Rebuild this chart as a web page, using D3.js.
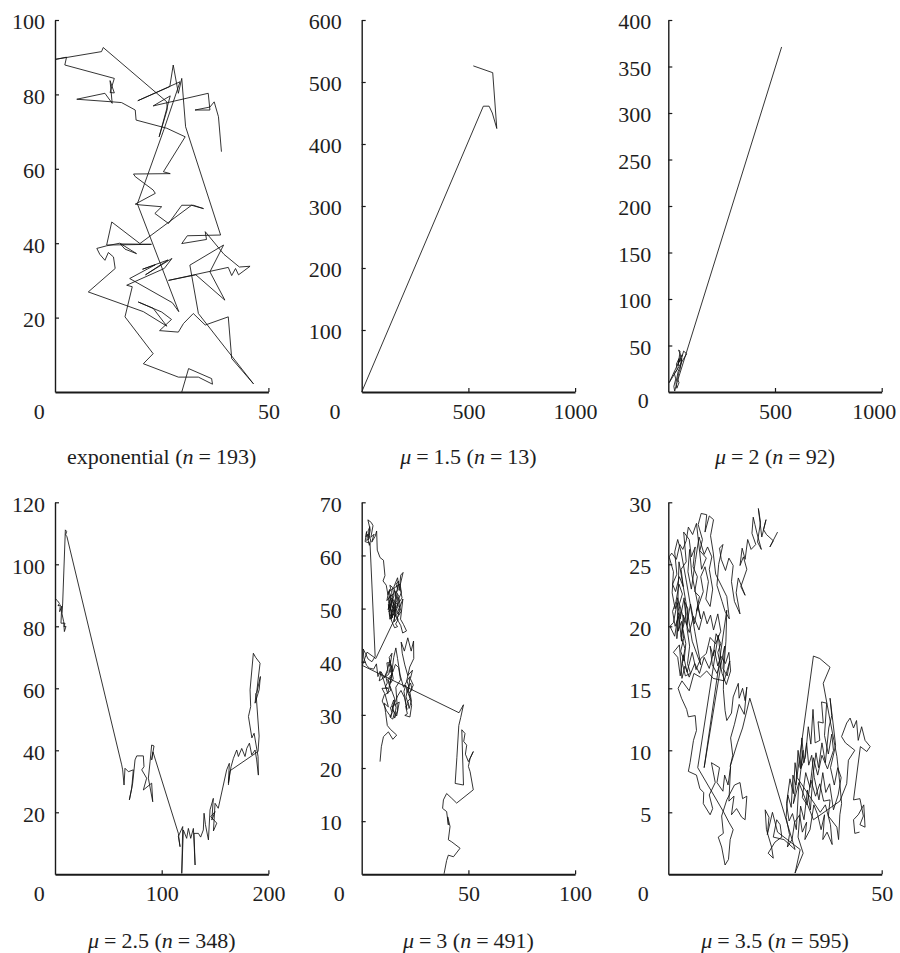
<!DOCTYPE html>
<html><head><meta charset="utf-8">
<script src="https://cdn.jsdelivr.net/npm/d3@7"></script>
<style>
body{margin:0;background:#fff}
svg{display:block}
text{font-family:"Liberation Serif","Times New Roman",serif;fill:#1e1e1e}
</style>
</head><body><svg id="c" width="900" height="953"></svg>
<script>
// ---------------- data ----------------
const titleLabels = ["exponential","1.5","2","2.5","3","3.5"];
const sampleSizes = [193,13,92,348,491,595];
const xDomains = [[0,50],[0,1000],[0,1000],[0,200],[0,100],[0,50]];
const yDomains = [[0,100],[0,600],[0,400],[0,120],[0,70],[0,30]];
const xTicks = [[50],[500,1000],[500,1000],[100,200],[50,100],[50]];
const yTicks = [[20,40,60,80,100],[100,200,300,400,500,600],[50,100,150,200,250,300,350,400],
                [20,40,60,80,100,120],[10,20,30,40,50,60,70],[5,10,15,20,25,30]];
const originLabel = "0";

const walkExp = [
[39.0,64.6],[38.3,74.0],[37.3,78.0],[36.3,76.6],[32.8,75.8],[36.3,75.8],[35.9,80.3],[23.0,76.9],[27.0,79.6],[24.4,68.6],
[26.3,76.0],[26.2,78.0],[11.3,92.6],[10.9,91.5],[0,89.4],[2.7,90.0],[2.3,87.9],[13.9,84.3],[12.9,80.5],[13.9,80.4],
[12.9,83.7],[13.4,77.6],[11.7,80.3],[5.1,78.7],[13.4,78.0],[15.6,77.8],[18.8,75.8],[19.0,73.1],[26.2,70.9],[30.5,68.6],
[25.4,59.2],[27.0,58.7],[18.4,58.6],[18.8,57.9],[23.0,54.3],[23.5,53.4],[18.8,50.5],[19.9,50.3],[25.0,49.8],[23.4,48.0],
[26.6,45.3],[29.7,50.2],[32.4,50.2],[34.8,49.3],[32.0,50.2],[19.9,39.9],[13.3,45.7],[12.1,39.5],[22.6,39.7],[15.3,39.8],
[16.4,38.4],[19.1,37.2],[15.2,40.0],[12.1,39.3],[9.8,38.6],[10.5,37.0],[11.7,35.4],[12.5,37.5],[13.7,36.3],[14.1,33.2],
[7.8,26.9],[20.7,21.6],[26.2,17.7],[23.0,22.5],[19.5,24.2],[25.0,21.5],[27.3,19.5],[24.5,16.5],[28.9,16.1],[30.1,18.4],
[32.4,21.1],[35.2,18.0],[40.6,20.2],[41.4,9.0],[46.5,2.2],[33.6,21.1],[31.6,34.1],[39.5,39.5],[36.3,32.3],[39.8,24.7],
[33.0,31.5],[26.6,30.0],[40.6,33.5],[41.4,31.3],[42.3,33.2],[43.0,31.5],[45.7,33.8],[43.2,33.6],[39.6,37.0],[35.2,43.1],
[35.5,41.0],[29.7,39.9],[31.0,42.0],[38.8,42.2],[30.6,71.3],[29.7,84.3],[28.9,80.3],[27.7,87.9],[26.9,82.1],[19.4,78.3],
[29.3,83.4],[25.5,70.5],[19.3,50.6],[29.0,21.6],[27.5,24.0],[17.5,30.5],[23.5,34.2],[20.5,33.0],[26.5,35.5],[21.2,31.5],
[27.4,35.9],[25.6,33.2],[16.8,28.7],[18.1,28.3],[16.4,20.2],[23.0,10.3],[20.7,7.6],[28.9,4.0],[33.6,4.0],[36.9,2.1],
[36.7,3.6],[31.3,6.3],[29.7,0.0]
];

const walkMu15 = [
[0,0],[570,461],[597,461],[612,450],[633,425],[614,515],[523,526]
];

const walkMu2 = [
[531,371],[38,8],[30,1],[26,6],[35,14],[28,20],[42,24],[38,30],[50,36],[46,28],[55,44],[48,45],[58,40],[52,32],
[62,36],[56,25],[48,20],[44,14],[50,10],[40,4],[36,10],[46,22],[60,30],[65,40],[4,10],[86,41],[72,44],[64,38]
];

const walkMu25 = [
[0,89.0],[2.2,88.3],[4.1,87.4],[2.8,86.6],[5.0,86.9],[4.4,84.7],[6.3,86.5],[5.6,81.0],[9.4,81.0],[8.4,79.9],
[10.3,80.0],[8.8,78.3],[8.1,81.5],[6.6,84.0],[7.2,87.5],[9.7,111.1],[10.9,110.6],[10.0,109.5],[11.2,108.9],
[62.5,35.3],[63.4,33.7],[64.7,28.8],[65.6,34.2],[68.8,33.1],[73.4,33.7],[71.9,27.7],[69.7,24.0],[72.8,29.4],[75.0,36.9],
[76.6,38.2],[82.8,38.2],[83.4,34.7],[81.3,33.7],[85.9,31.0],[82.8,27.2],[90.6,29.4],[91.6,23.4],[87.5,31.0],[89.1,36.3],
[90.6,41.7],[92.8,41.4],[90.6,36.9],[91.8,39.5],
[115.6,13.2],[117.2,8.9],[115.6,12.2],[119.7,15.4],[118.8,0.3],[120.3,14.3],[123.4,11.6],[125.0,14.8],[127.2,11.6],
[129.7,14.8],[131.3,3.0],[130.3,13.2],[134.4,13.2],[136.5,12.0],[139.0,14.3],[139.7,19.7],[141.0,16.0],[143.8,11.1],
[145.3,20.8],[148.4,24.5],[147.0,17.5],[150.0,20.2],[146.0,18.6],[151.6,16.5],[148.5,14.0],[150.0,22.9],[153.0,21.3],
[160.9,33.7],[163.4,35.8],[162.5,29.4],[165.0,34.7],[167.2,37.4],[170.3,40.1],[171.9,38.0],[175.0,40.6],[178.1,38.0],
[179.7,40.6],[182.2,42.3],[184.4,38.5],[187.5,40.1],[189.0,36.9],[190.6,32.0],[190.3,38.0],[186.6,45.5],[184.5,44.0],
[181.3,50.9],[183.4,54.1],[182.8,59.5],[185.9,71.3],[188.0,70.0],[192.2,68.1],[190.3,62.7],[189.0,58.4],[192.5,63.8],
[191.3,59.5],[187.5,55.2],[188.4,58.4],[191.3,44.6],[190.3,39.6],[164.0,33.4],[162.5,28.8]
];

const walkMu3 = [
[8.6,21.2],[9.2,24.0],[10.2,25.9],[12.5,26.8],[14.6,25.4],[16.4,26.2],[13.4,27.3],[12.0,28.0],[11.2,30.4],[10.6,32.2],
[12.5,31.5],[11.0,33.8],[13.6,34.6],[12.2,36.7],[14.4,37.8],[13.1,35.6],[15.5,33.0],[14.3,31.0],[16.4,29.8],[17.6,32.4],
[13.4,31.4],[14.2,30.4],[13.2,29.6],[14.6,29.2],[15.3,30.4],[14.1,31.8],[15.0,32.8],[16.1,31.4],[15.4,29.4],[16.8,30.8],
[16.0,35.2],[18.2,36.6],[17.3,38.9],[15.8,39.5],[14.6,38.1],[13.2,40.3],[12.1,38.5],[10.6,37.0],[9.1,38.1],[8.2,36.4],
[12.6,37.6],[13.4,38.9],[12.8,39.6],[14.0,39.2],[13.2,38.0],[14.5,38.4],[13.8,37.2],[12.4,36.4],[13.6,36.0],[14.8,36.8],
[13.9,38.6],[12.9,40.8],[14.2,41.6],[13.5,39.8],[11.8,39.8],[12.3,38.2],[11.2,37.4],[12.0,36.0],[11.0,35.2],[12.4,35.0],
[9.5,35.0],[10.8,34.0],[9.6,32.6],[11.6,30.8],[13.7,29.6],[15.0,31.8],[16.9,33.6],[18.4,34.6],[20.1,33.2],[21.2,31.0],
[19.8,34.4],[20.6,35.6],[21.4,34.2],[22.2,35.2],[21.2,36.4],[22.6,37.2],[21.8,34.0],[22.8,33.0],[21.6,32.6],[22.2,31.2],
[23.3,32.6],[22.6,34.2],[23.6,34.8],[22.9,36.0],[21.5,35.0],[20.8,33.4],[21.8,32.0],[20.6,31.6],[21.4,30.2],[20.2,29.9],
[22.6,29.6],[23.4,31.8],[22.2,34.0],[24.2,35.6],[22.8,36.8],[23.8,38.4],[21.6,37.4],[20.2,39.4],[19.0,41.6],[18.5,43.7],
[20.0,42.0],[21.6,44.5],[23.2,42.0],[24.3,43.9],[24.4,40.6],[22.5,39.0],[21.0,36.2],[19.6,35.2],[18.0,37.5],[16.8,40.6],
[16.0,42.6],[15.0,40.8],[13.8,37.0],[12.2,34.0],[10.4,36.4],[8.6,38.2],[7.6,37.2],[6.9,39.6],[5.6,38.6],[3.6,38.8],
[2.3,39.3],[1.0,40.6],[0.7,42.4],[1.7,41.6],[3.0,40.5],[4.8,40.0],[6.3,41.0],[3.9,62.3],
[1.6,62.6],[2.3,64.5],[2.0,63.5],[2.8,64.0],[2.4,62.8],[3.3,63.2],[3.0,64.6],[3.8,65.4],[3.4,63.8],[4.2,62.9],
[3.6,61.9],[3.1,62.8],[4.0,64.8],[2.9,66.7],[4.5,66.2],[5.3,65.6],[4.3,63.4],[5.8,64.0],[4.7,62.5],
[6.3,63.6],[7.0,64.6],[7.3,61.0],[8.6,59.6],[10.2,59.1],[10.9,56.2],[10.0,55.2],[11.5,54.4],
[12.3,52.6],[13.1,53.6],[12.6,51.0],[13.6,50.2],[12.8,49.4],[14.2,51.0],[13.5,52.2],[14.6,52.8],[13.9,50.8],[14.9,49.9],
[13.9,49.2],[14.4,48.3],[13.1,50.6],[12.4,49.8],[13.3,51.6],[14.1,52.0],[15.2,51.4],[14.6,50.3],[15.6,50.0],[14.8,48.8],
[13.8,48.0],[14.5,49.6],[15.9,49.8],[15.3,48.3],[16.2,49.2],[15.7,50.9],[16.6,51.6],[15.8,52.8],[16.9,53.6],[16.1,54.6],
[17.3,55.2],[16.4,53.0],[17.4,52.3],[16.7,50.4],[17.6,49.4],[16.4,48.9],[17.0,47.9],[15.9,47.1],[16.8,46.6],[15.4,46.4],
[14.1,47.6],[13.0,49.0],[13.8,50.4],[12.7,51.8],[14.0,53.0],[13.2,54.4],[14.4,54.0],[15.1,52.4],[14.3,51.4],[15.4,50.6],
[16.1,51.9],[15.3,53.4],[16.5,52.8],[17.1,51.2],[16.2,50.0],[17.3,48.8],[18.0,50.6],[17.5,52.0],[18.6,53.0],[18.0,54.6],
[12.6,53.2],[11.8,51.5],[13.8,52.6],[12.9,50.0],[14.5,51.8],[15.5,49.0],[13.4,48.6],[14.7,50.6],[16.2,52.4],[15.0,54.0],
[16.8,55.8],[17.6,53.4],[18.3,56.3],[19.4,56.8],[17.9,54.2],[18.9,52.0],[17.2,51.0],[18.5,49.5],[16.6,48.2],[15.2,47.5],
[16.0,50.6],[14.0,49.6],[12.5,50.8],[13.2,48.0],[14.8,49.2],[15.8,51.2],[17.8,50.2],[19.3,51.8],[18.2,48.0],[19.6,47.0],
[21.0,45.8],[19.2,45.4],[18.3,46.8],[17.2,47.6],[15.8,48.8],[14.8,47.5],[6.6,40.6],[2.5,41.8],[0.3,39.3],[45.6,30.4],
[47.7,31.9],[46.4,29.5],[45.5,28.0],[44.6,22.0],[43.8,17.1],[47.7,16.8],[46.9,27.2],[48.4,26.5],[47.8,25.0],[49.2,24.3],
[48.6,22.6],[50.0,21.2],[52.3,23.1],[50.8,21.8],[50.0,20.3],[50.8,19.3],[52.3,15.9],[44.5,13.4],[42.2,14.3],[39.8,15.2],
[38.3,14.0],[37.9,12.4],[39.8,11.8],[40.6,9.3],[40.3,10.8],[41.4,9.0],[40.6,6.5],[42.2,6.1],[46.1,4.9],[43.0,3.3],
[40.6,3.6],[39.8,2.6],[38.6,0.1]
];

const walkMu35 = [
[25.6,27.6],[23.8,26.4],[24.6,26.9],[23.0,27.4],[22.3,27.8],[22.9,28.6],[21.9,27.2],[21.1,29.5],[21.6,28.4],[20.9,26.8],
[21.8,26.2],[20.7,27.6],[20.3,28.2],
[19.9,28.8],[19.6,27.5],[20.5,26.6],[19.4,26.2],[18.6,27.0],[18.0,25.4],[17.3,26.3],[16.8,24.9],[17.6,25.6],[18.4,24.6],
[17.0,23.2],[18.0,22.5],[16.4,23.9],[15.9,22.7],[16.8,21.0],[15.5,22.0],[14.8,23.6],[15.2,24.9],[14.2,25.5],[13.4,24.5],
[12.4,25.4],[12.0,26.3],[12.8,26.6],[11.8,25.0],[11.4,23.3],[12.6,22.0],[13.3,21.2],[14.3,20.6],[13.7,22.4],
[11.1,24.2],[10.5,26.0],[9.9,27.3],[10.6,28.6],[9.6,28.9],[8.6,27.6],[9.0,29.0],[7.7,29.1],[7.0,28.2],[8.0,27.0],
[7.4,26.1],[8.9,25.5],[7.8,24.6],[6.6,28.3],[5.7,27.4],[4.7,28.0],[4.2,26.9],[3.4,26.2],[2.7,26.6],[1.9,25.4],
[0.8,25.9],[0.2,25.6],[1.2,24.4],[0.9,22.7],
[1.6,21.4],[2.2,22.3],[2.9,21.0],[2.3,19.6],[3.1,20.4],[3.6,19.0],[2.9,18.0],[3.7,17.2],[4.1,18.6],[3.4,19.8],
[4.2,21.0],[3.8,22.0],[4.6,21.4],[4.4,19.8],[5.0,18.4],[4.5,17.0],[5.2,16.2],[4.0,16.0],[3.3,17.0],[3.9,18.2],
[3.0,19.2],[3.6,20.6],[2.6,21.8],[3.3,22.6],[2.5,23.4],[1.8,22.0],[1.0,21.2],[1.6,20.0],[2.4,20.8],[2.0,19.0],
[2.5,25.2],[4.1,22.0],[5.6,18.8],[7.6,16.9],[6.2,19.6],[4.3,23.5],[3.0,26.0],
[2.2,27.0],[1.5,26.0],[2.0,24.2],[1.0,23.4],[1.7,22.8],[2.6,24.0],[3.5,23.2],[3.0,24.6],[4.2,25.2],[3.6,27.6],
[4.9,27.0],[5.4,25.6],[6.3,26.4],[5.8,24.8],[6.8,24.0],[6.2,22.8],[7.3,22.4],[6.6,21.2],
[8.2,22.8],[7.6,24.0],[8.6,24.8],[9.4,23.6],[8.8,22.2],[9.8,21.6],[10.4,23.0],[9.6,24.6],[10.2,25.6],[9.2,26.4],
[8.4,25.8],[7.2,27.2],[6.4,25.4],[5.4,23.0],[4.6,24.4],[5.0,26.2],
[5.5,24.2],[7.6,20.6],
[6.9,21.6],[6.1,20.2],[5.2,21.8],[4.3,20.1],[3.7,22.3],[2.8,20.6],[2.1,21.9],[1.2,20.3],[0.4,20.0],[1.5,19.2],
[2.4,21.1],[3.1,18.8],[3.5,20.9],[4.9,19.5],[5.9,20.8],[7.2,19.7],[8.3,21.2],[9.1,20.2],[9.9,20.9],[10.6,19.7],
[11.6,21.0],[12.3,19.6],[11.1,18.6],[9.8,19.1],[8.9,17.8],
[7.6,17.4],[6.5,16.5],[5.6,17.9],[4.4,16.3],[3.5,17.7],[2.8,16.0],[2.2,17.5],[1.2,17.9],[2.6,18.5],[3.2,15.8],
[3.9,16.8],[4.9,15.9],[6.2,17.0],[7.3,16.2],[8.4,17.5],[9.6,16.6],[10.8,18.1],[11.6,16.8],[12.3,17.6],[13.4,17.0],
[14.2,17.9],[14.6,16.4],[13.6,15.3],[12.6,16.2],
[11.6,17.9],[12.3,18.6],[11.2,19.4],[10.5,17.6],[9.8,18.4],[10.3,16.9],[11.4,16.2],[12.5,17.2],[13.2,18.4],[12.8,16.6],
[13.8,16.0],[14.4,17.2],[13.1,15.6],
[10.5,15.8],[9.0,16.4],[7.5,15.9],[6.0,16.2],[4.9,14.8],[3.2,15.6],[2.3,15.0],[3.1,14.2],[4.3,13.3],[4.7,12.7],
[6.3,12.8],[6.6,11.6],[5.9,10.8],[5.1,9.0],[4.7,8.3],[6.6,8.0],[7.4,6.9],[8.3,6.6],[8.2,5.7],[9.8,4.8],
[10.4,5.3],[9.6,6.4],[11.0,7.4],[10.1,9.0],
[12.0,8.6],[11.4,7.4],[12.8,6.7],[13.2,8.0],[14.0,7.2],[14.6,8.7],[14.2,5.9],[15.4,6.3],[14.8,4.8],[16.0,5.3],
[17.2,4.6],[18.0,4.4],[18.4,6.3],[17.4,6.1],[16.8,7.4],[15.5,7.2],[13.7,6.0],[12.5,4.7],[12.9,3.3],[11.7,3.0],
[12.5,2.2],[13.3,0.75],[14.1,1.2],[14.5,2.8],[15.2,3.6],[14.2,4.2],
[13.0,5.0],[6.9,8.6],[11.7,19.3],[12.4,17.0],[8.4,8.6],[13.7,21.3],
[13.5,18.8],[13.0,16.5],[12.9,14.9],[13.3,13.2],[13.7,12.4],[14.8,13.0],[15.2,14.3],[16.4,15.4],[16.6,14.2],[17.4,15.0],
[18.0,14.0],[18.4,15.1],[17.8,12.9],[16.6,13.7],[15.5,12.1],[14.6,11.0],[15.1,9.6],[14.5,8.7],
[16.2,10.6],[17.4,11.8],[19.1,14.2],[29.7,2.0],
[27.1,2.8],[24.6,3.0],[25.4,4.4],[26.2,4.0],[26.6,3.0],[25.0,2.6],[23.4,1.7],[24.6,1.3],[24.2,2.2],[23.0,3.6],
[22.7,5.2],[23.6,4.6],[23.2,3.2],[24.4,5.0],[25.6,3.4],[30.9,2.0],[29.7,0.1],[31.6,1.7],[30.4,3.0],[31.0,5.5],
[31.8,4.4],[32.6,6.8],[33.3,5.2],[33.9,8.0],[34.6,9.8],[35.2,8.6],[36.0,10.6],[36.8,9.0],[37.6,11.8],[38.3,12.8],
[37.9,14.2],[38.6,12.2],[39.2,10.4],[38.0,8.6],[38.9,7.2],[39.7,8.6],[40.5,7.8],[39.8,6.4],[38.7,5.2],[37.8,7.3],
[36.9,6.6],[36.2,8.2],[35.3,6.0],[34.2,7.8],[33.6,9.6],[32.9,8.8],[32.4,10.6],[31.8,9.0],[31.3,11.0],[30.9,8.6],
[30.4,10.0],[29.9,7.2],[29.2,8.0],[28.8,5.4],[28.0,6.4],[27.6,4.6],
[28.4,3.2],[27.9,2.2],[29.0,2.8],[29.6,4.2],[30.8,4.8],[31.4,3.4],[32.4,4.2],[32.0,2.8],[33.2,3.6],[34.1,5.6],
[35.0,4.8],[35.8,3.6],[36.6,4.8],[36.2,2.8],[37.2,3.4],[38.4,2.4],[38.0,4.0],[36.8,5.6],[35.6,5.0],
[30.2,7.8],[29.7,9.0],[29.3,6.5],[28.5,7.7],[27.7,5.7],[28.3,4.3],[29.1,4.9],[30.0,3.6],[30.5,6.8],[31.6,10.0],
[31.0,8.5],[32.1,9.4],[32.8,11.9],[33.4,10.5],[33.9,13.3],[34.4,10.6],[35.5,10.8],[35.1,12.3],[36.3,12.2],[35.9,13.9],
[37.1,13.8],[36.6,11.2],[37.5,9.7],[38.3,11.3],[38.7,10.0],[37.3,8.5],[36.0,9.6],[35.0,8.0],[34.0,9.4],[33.2,7.0],
[32.2,8.2],[31.4,6.2],[32.5,5.6],[33.4,7.6],[34.5,6.3],[35.5,7.3],[36.4,5.9],[37.9,6.0],[37.5,4.7],[39.5,3.8],
[39.9,2.8],[40.2,4.8],[40.6,5.7],[40.2,7.3],[39.5,9.5],[38.8,10.8],[37.8,12.6],[36.3,15.4],[37.9,16.7],[35.5,17.4],
[34.0,17.6],[29.3,5.7],[30.6,7.4],[34.0,4.4],[40.2,5.9],[41.8,7.3],[42.2,9.2],[43.7,10.0],[41.5,10.6],[40.6,11.1],
[41.8,12.2],[42.6,12.6],[43.4,11.8],[44.1,12.4],[44.5,10.8],[45.3,11.9],[46.1,10.8],[47.3,10.3],[46.5,9.9],[45.0,10.3],
[43.4,6.0],[44.9,6.1],[45.7,4.7],[44.9,4.0],[46.1,3.8],[45.8,5.6],[44.5,4.8],[43.4,4.4],[43.7,3.3],[44.8,3.4]
];

const walks = [walkExp, walkMu15, walkMu2, walkMu25, walkMu3, walkMu35];

// ---------------- layout ----------------
const PW = 213.4, PH = 372;
const cells = [
  {left:55,    top:20,    yPad:10, zeroDx:-15.7, zeroDy:27.2, lastDx:0,  titleY:463.5},
  {left:361.7, top:20,    yPad:20, zeroDx:-26.7, zeroDy:27.2, lastDx:0,  titleY:463.5},
  {left:668.3, top:20,    yPad:17, zeroDx:-25,   zeroDy:15.5, lastDx:-8, titleY:463.5},
  {left:55,    top:502.3, yPad:10, zeroDx:-15.7, zeroDy:26.5, lastDx:0,  titleY:948},
  {left:361.7, top:502.3, yPad:20, zeroDx:-22.4, zeroDy:26.5, lastDx:0,  titleY:948},
  {left:668.3, top:502.3, yPad:17, zeroDx:-25,   zeroDy:26.5, lastDx:0,  titleY:948}
];
const FS = 22, INK = "#1a1a1a";

const svg = d3.select("#c");

cells.forEach((c, i) => {
  const x = d3.scaleLinear().domain(xDomains[i]).range([0, PW]);
  const y = d3.scaleLinear().domain(yDomains[i]).range([PH, 0]);
  const g = svg.append("g").attr("transform", `translate(${c.left},${c.top})`);

  g.append("path")
    .datum(walks[i])
    .attr("d", d3.line().x(d => x(d[0])).y(d => y(d[1])))
    .attr("fill", "none")
    .attr("stroke", "#111")
    .attr("stroke-width", 0.85)
    .attr("stroke-linejoin", "miter")
    .attr("stroke-miterlimit", 3);

  const ya = g.append("g")
    .call(d3.axisLeft(y).tickValues(yTicks[i]).tickSize(-4).tickSizeOuter(0)
      .tickPadding(c.yPad).tickFormat(d3.format("d")));
  ya.attr("font-size", FS);
  ya.select(".domain").attr("stroke", INK).attr("stroke-width", 1.4);
  ya.selectAll(".tick line").attr("stroke", INK).attr("stroke-width", 1.2);
  ya.selectAll(".tick text").attr("dy", "0.4em");

  const xa = g.append("g").attr("transform", `translate(0,${PH})`)
    .call(d3.axisBottom(x).tickValues(xTicks[i]).tickSize(-4).tickSizeOuter(0)
      .tickPadding(11.5).tickFormat(d3.format("d")));
  xa.attr("font-size", FS);
  xa.select(".domain").attr("stroke", INK).attr("stroke-width", 2);
  xa.selectAll(".tick line").attr("stroke", INK).attr("stroke-width", 1.2);
  xa.selectAll(".tick text")
    .attr("dx", (d, k, arr) => k === arr.length - 1 ? c.lastDx : 0);

  g.append("text")
    .attr("x", c.zeroDx).attr("y", PH + c.zeroDy)
    .attr("text-anchor", "middle").attr("font-size", FS)
    .text(originLabel);

  // title
  const t = svg.append("text")
    .attr("x", c.left + PW / 2).attr("y", c.titleY)
    .attr("text-anchor", "middle").attr("font-size", FS);
  const lab = titleLabels[i];
  if (lab === "exponential") {
    t.append("tspan").text("exponential (");
  } else {
    t.append("tspan").attr("font-style", "italic").text("\u03bc");
    t.append("tspan").attr("dx", 5).text("=");
    t.append("tspan").attr("dx", 5).text(lab + " (");
  }
  t.append("tspan").attr("font-style", "italic").text("n");
  t.append("tspan").attr("dx", 5).text("=");
  t.append("tspan").attr("dx", 5).text(sampleSizes[i] + ")");
});
</script>
</body></html>
